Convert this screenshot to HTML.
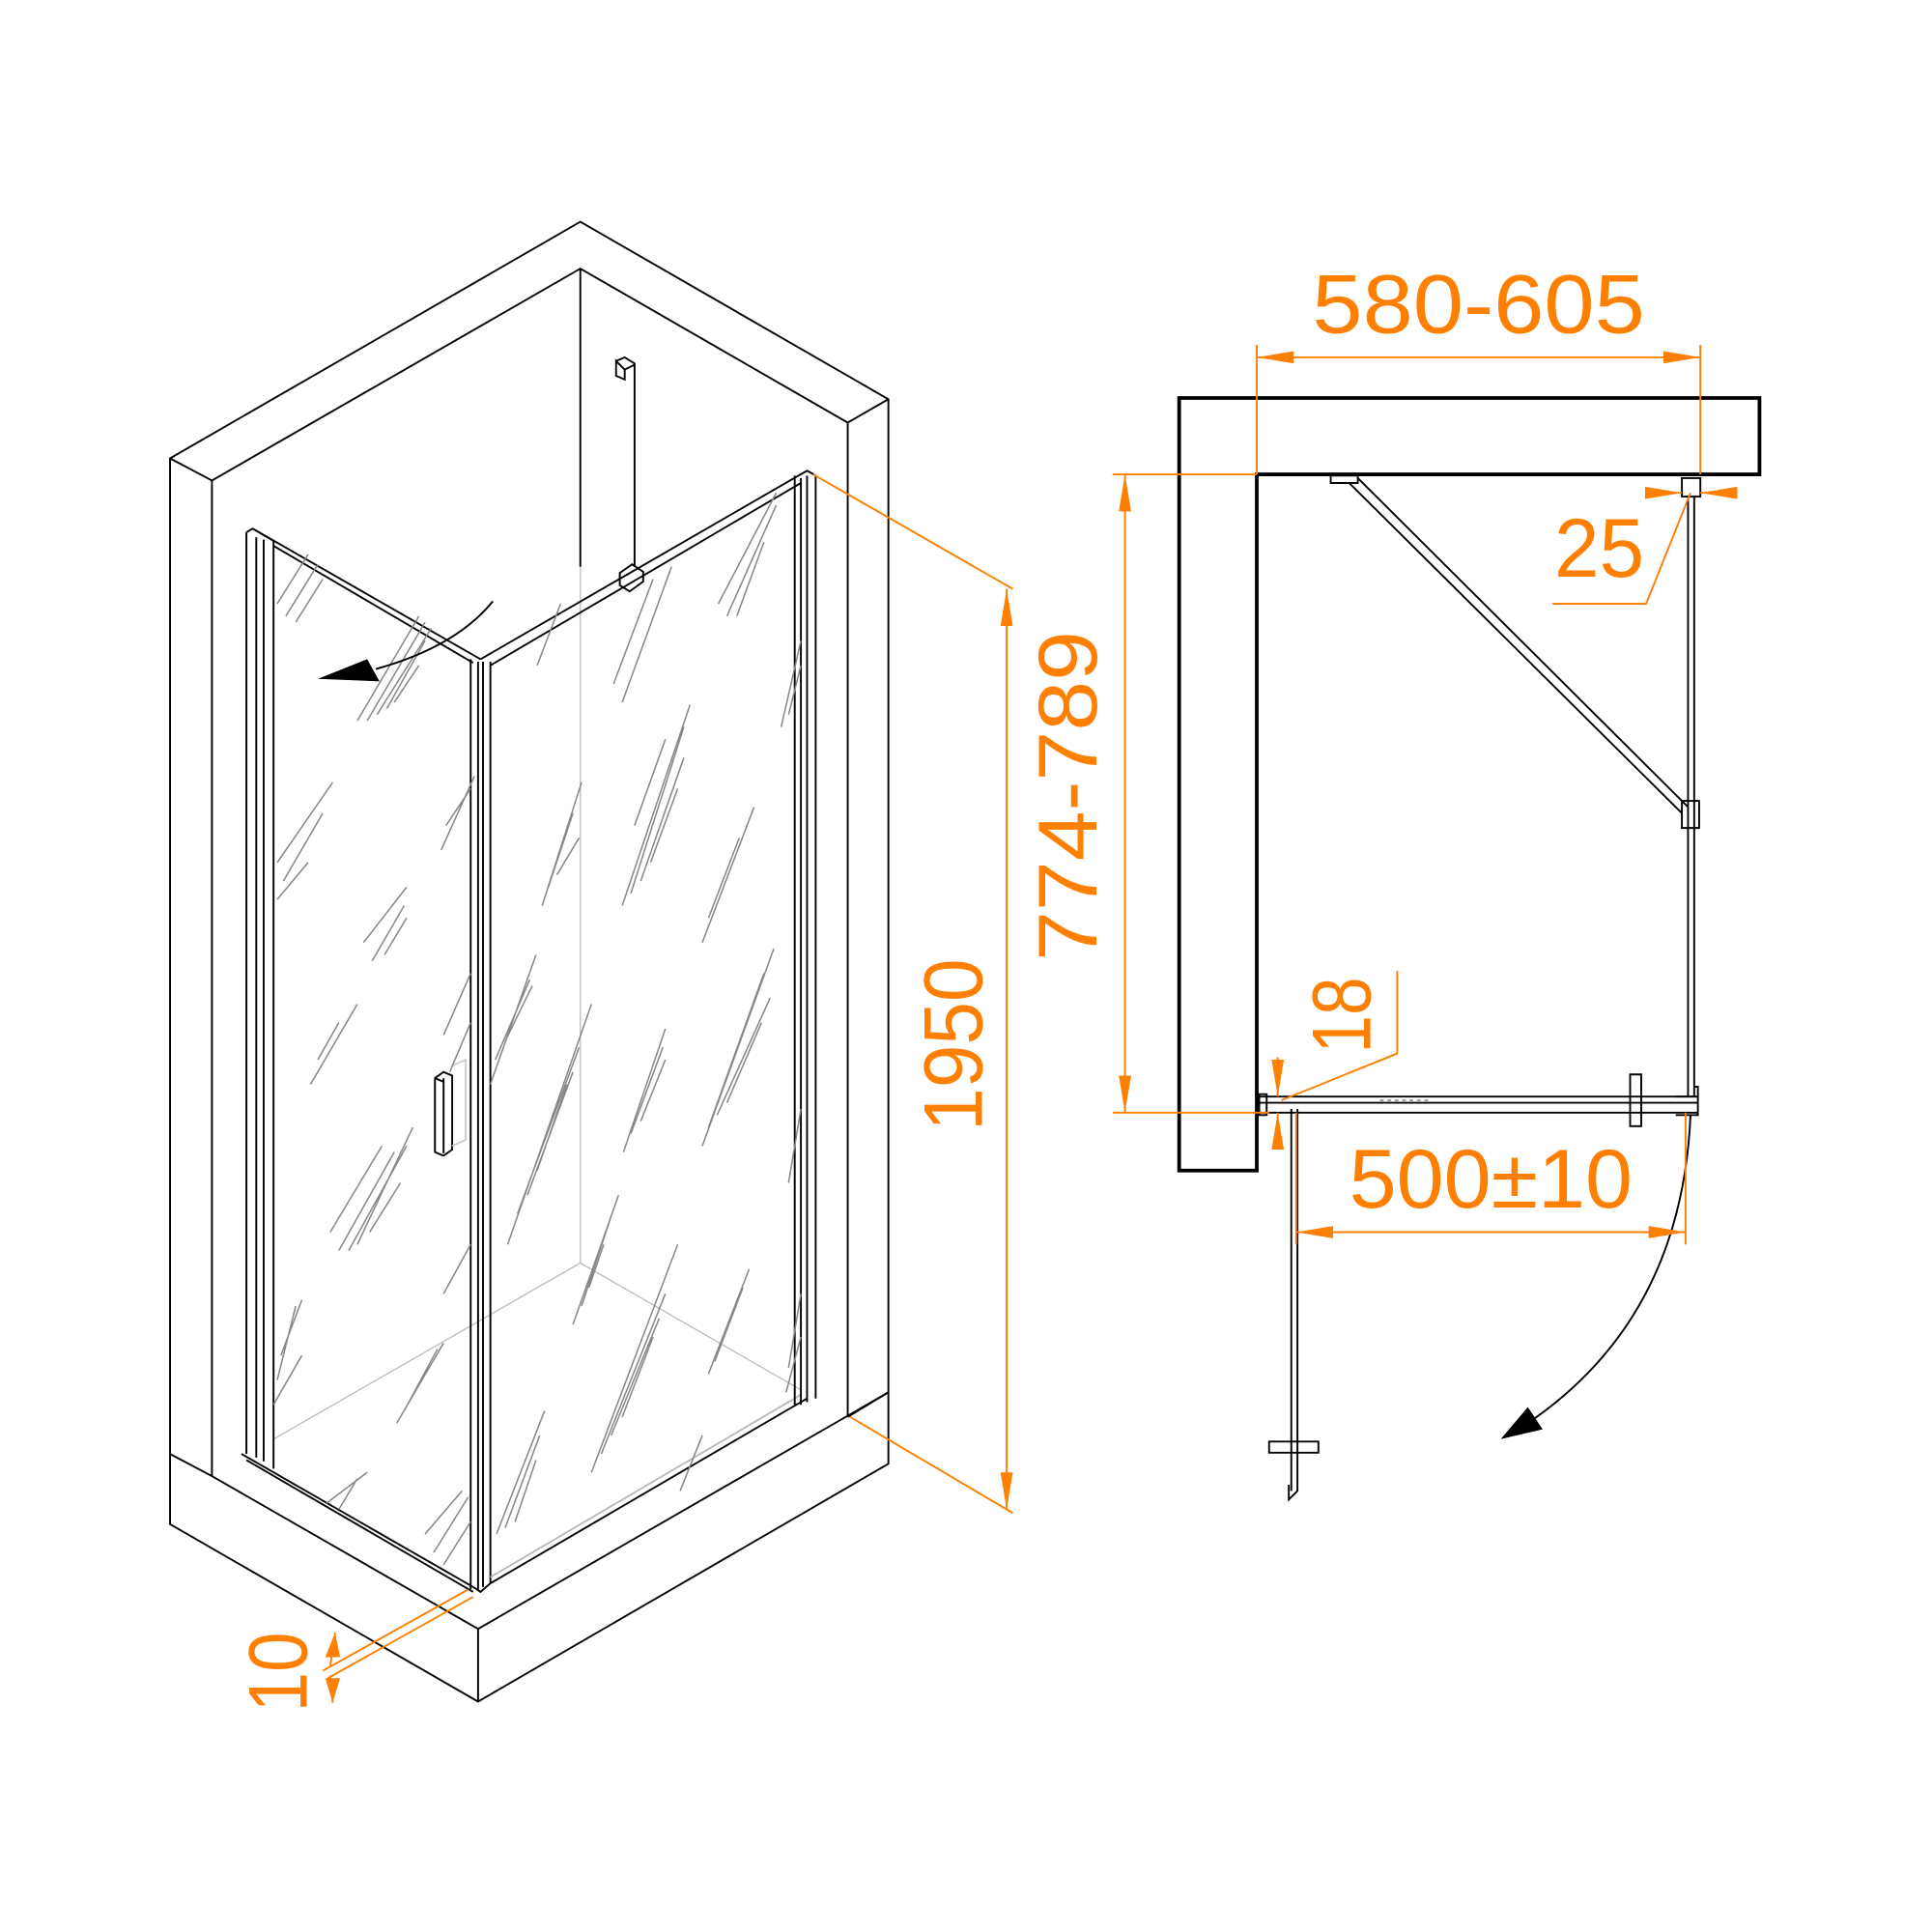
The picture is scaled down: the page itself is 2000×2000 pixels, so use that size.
<!DOCTYPE html>
<html><head><meta charset="utf-8"><style>
html,body{margin:0;padding:0;background:#fff}
svg{display:block}
text{font-family:"Liberation Sans",sans-serif;fill:#FF7F00}
</style></head><body>
<svg width="2000" height="2000" viewBox="0 0 1568 1568" xmlns="http://www.w3.org/2000/svg">
<defs>
<marker id="a" viewBox="0 0 30 10" refX="30" refY="5" markerWidth="30" markerHeight="10" markerUnits="userSpaceOnUse" orient="auto-start-reverse"><path d="M0,0 L30,5 L0,10 Z" fill="#FF7F00"/></marker>
</defs>
<g fill="none" stroke="#000" stroke-width="1.5">
<path d="M138,372 L471,180 L721,324 L721,1188 L388,1381 L138,1237 Z"/>
<path d="M138,372 L172,390 L471,218 L688,343 L721,324"/>
<path d="M172,390 L172,1198"/>
<path d="M688,343 L688,1150"/>
<path d="M471,218 L471,460"/>
<path d="M138,1180 L172,1198 L388,1322 L721,1130"/>
<path d="M688,1150 L721,1130"/>
<path d="M388,1322 L388,1381"/>
<path d="M222,1168 L471,1025 L650,1128" stroke="#bbb" stroke-width="1"/>
<path d="M471,460 L471,1025" stroke="#bbb" stroke-width="1"/>
<path d="M500,293 L507,290 L515,295 L515,460 M500,293 L500,305 L507,308 L507,300 Z M507,300 L515,296"/>
<path d="M503,465 L513,458 L522,464 L522,472 L511,480 L503,475 Z"/>
<path d="M200,432 L205,429 L222,439 L222,1192 M200,432 L200,1180 M208,436 L208,1183 M214,438 L214,1186"/>
<path d="M205,429 L390,535"/>
<path d="M222,443 L384,538"/>
<path d="M196,1180 L384,1288"/>
<path d="M200,1185 L384,1292"/>
<path d="M382,535 L382,1290 M388,537 L388,1290 M392,537 L392,1288 M398,537 L398,1285"/>
<path d="M384,1288 L390,1292 L398,1285"/>
<path d="M390,535 L655,382 L662,386"/>
<path d="M398,540 L650,392"/>
<path d="M398,1285 L655,1135"/>
<path d="M398,1280 L650,1132" stroke="#bbb"/>
<path d="M645,386 L645,1140 M650,388 L650,1140 M655,386 L655,1138 M662,386 L662,1135"/>
<path d="M353,875 L360,870 L367,873 L367,933 L360,938 L353,935 Z M360,875 L360,936 M353,875 L360,878"/>
<path d="M367,865 L378,860 L378,925 L367,930" stroke="#ccc"/>
</g>
<g stroke="#888" stroke-width="1.2">
<path d="M225,490 L250,450 M232,500 L258,458 M240,505 L262,470"/>
<path d="M290,585 L340,500 M298,585 L345,505 M306,580 L350,510 M314,575 L345,520 M320,570 L340,540"/>
<path d="M225,700 L270,635 M230,715 L262,660 M225,730 L250,700"/>
<path d="M295,765 L330,720 M302,780 L328,735 M312,775 L330,745"/>
<path d="M252,880 L290,815 M258,860 L275,830"/>
<path d="M268,1000 L310,930 M275,1015 L320,935 M283,1015 L330,930 M290,1010 L335,915 M300,1000 L325,960"/>
<path d="M222,1140 L245,1100 M225,1120 L240,1060 M228,1100 L245,1055"/>
<path d="M322,1155 L360,1090 M328,1145 L355,1095"/>
<path d="M358,690 L385,630 M362,670 L382,640"/>
<path d="M360,840 L382,790 M365,870 L382,830"/>
<path d="M360,1050 L382,1010"/>
<path d="M345,1245 L375,1210 M352,1260 L380,1215 M360,1270 L382,1235"/>
<path d="M265,1220 L298,1195 M275,1225 L290,1200"/>
<path d="M505,570 L545,460 M498,555 L530,470 M436,540 L455,490"/>
<path d="M505,735 L560,572 M512,725 L555,590 M520,715 L555,615 M528,700 L550,640 M515,670 L540,600"/>
<path d="M583,490 L630,400 M590,500 L630,410 M598,500 L620,440"/>
<path d="M570,765 L612,655 M575,745 L600,680"/>
<path d="M634,590 L650,520 M640,580 L650,540"/>
<path d="M440,735 L472,635 M445,720 L465,660 M452,710 L470,680"/>
<path d="M398,880 L435,775 M402,860 L430,795 M410,845 L432,800"/>
<path d="M412,1010 L480,815 M420,985 L470,850 M428,970 L465,870 M436,950 L460,880"/>
<path d="M506,935 L540,835 M512,920 L538,850 M520,910 L540,860"/>
<path d="M570,930 L628,770 M575,915 L620,790 M582,905 L625,810 M590,895 L618,830"/>
<path d="M465,1075 L502,970 M472,1060 L495,990 M478,1045 L490,1010"/>
<path d="M480,1195 L550,1010 M488,1180 L540,1050 M496,1165 L535,1070 M505,1150 L530,1085"/>
<path d="M575,1115 L608,1030 M580,1105 L603,1045"/>
<path d="M640,1110 L650,1050 M638,1130 L650,1085"/>
<path d="M403,1245 L442,1145 M410,1240 L438,1165 M418,1235 L435,1185"/>
<path d="M552,1210 L570,1165 M640,960 L650,900"/>
</g>
<path d="M400,488 Q370,525 305,543" fill="none" stroke="#000" stroke-width="1.5"/>
<path d="M258,551 L298,535 L308,553 Z" fill="#000"/>
<g stroke="#FF7F00" stroke-width="1.5" fill="none">
<path d="M660,385 L822,478"/>
<path d="M690,1150 L822,1228"/>
<path d="M817,478 L817,1225" marker-start="url(#a)" marker-end="url(#a)"/>
<path d="M380,1290 L262,1356 M384,1296 L266,1362"/>
<path d="M272,1325 L268,1352 M270,1382 L268,1360"/>
</g>
<path d="M272,1325 L264,1345 L276,1345 Z M270,1382 L264,1362 L276,1362 Z" fill="#FF7F00"/>
<text font-size="68" transform="translate(797,848) rotate(-90)" text-anchor="middle" textLength="140" lengthAdjust="spacingAndGlyphs">1950</text>
<text font-size="68" transform="translate(249,1357) rotate(-90)" text-anchor="middle" textLength="65" lengthAdjust="spacingAndGlyphs">10</text>
<path d="M957,323 L1428,323 L1428,385 L1020,385 L1020,950 L957,950 Z" fill="none" stroke="#000" stroke-width="3"/>
<g fill="none" stroke="#000" stroke-width="1.5">
<path d="M1080,386 L1102,386 L1102,392 L1080,392 Z"/>
<path d="M1095,392 L1365,660 M1102,388 L1370,655"/>
<path d="M1365,388 L1380,388 L1380,403 L1365,403 Z"/>
<path d="M1370,403 L1370,890 M1375,403 L1375,890"/>
<path d="M1365,650 L1379,650 L1379,672 L1365,672 Z"/>
<path d="M1022,890 L1378,890 M1022,895 L1378,895 M1022,903 L1378,903"/>
<path d="M1022,888 L1028,888 L1028,905 L1022,905 Z"/>
<path d="M1360,890 L1378,890 L1378,905 L1360,905 M1375,882 L1378,882 L1378,905"/>
<path d="M1323,872 L1332,872 L1332,914 L1323,914 Z"/>
<path d="M1048,900 L1048,1210 M1053,900 L1053,1210 L1046,1217 L1046,1205"/>
<path d="M1030,1170 L1070,1170 L1070,1179 L1030,1179 Z"/>
<path d="M1372,905 Q1365,1070 1240,1155"/>
<path d="M1120,893 L1160,893" stroke="#999" stroke-dasharray="3,3"/>
</g>
<path d="M1218,1168 L1240,1142 L1252,1160 Z" fill="#000"/>
<g stroke="#FF7F00" stroke-width="1.5" fill="none">
<path d="M1020,280 L1020,385 M1380,280 L1380,385"/>
<path d="M1020,290 L1380,290" marker-start="url(#a)" marker-end="url(#a)"/>
<path d="M903,385 L1020,385 M903,903 L1030,903"/>
<path d="M913,385 L913,903" marker-start="url(#a)" marker-end="url(#a)"/>
<path d="M1335,400 L1365,400" marker-end="url(#a)"/>
<path d="M1410,400 L1380,400" marker-end="url(#a)"/>
<path d="M1260,490 L1336,490 L1372,400"/>
<path d="M1037,858 L1037,890" marker-end="url(#a)"/>
<path d="M1037,928 L1037,903" marker-end="url(#a)"/>
<path d="M1040,893 L1134,855 L1134,788"/>
<path d="M1052,903 L1052,1010 M1368,903 L1368,1010"/>
<path d="M1052,1000 L1368,1000" marker-start="url(#a)" marker-end="url(#a)"/>
</g>
<text x="1200" y="270" font-size="68" text-anchor="middle" textLength="270" lengthAdjust="spacingAndGlyphs">580-605</text>
<text x="1298" y="468" font-size="68" text-anchor="middle" textLength="73" lengthAdjust="spacingAndGlyphs">25</text>
<text x="1210" y="980" font-size="68" text-anchor="middle" textLength="230" lengthAdjust="spacingAndGlyphs">500±10</text>
<text font-size="68" transform="translate(890,646) rotate(-90)" text-anchor="middle" textLength="268" lengthAdjust="spacingAndGlyphs">774-789</text>
<text font-size="68" transform="translate(1112,824) rotate(-90)" text-anchor="middle" textLength="62" lengthAdjust="spacingAndGlyphs">18</text>
</svg>
</body></html>
